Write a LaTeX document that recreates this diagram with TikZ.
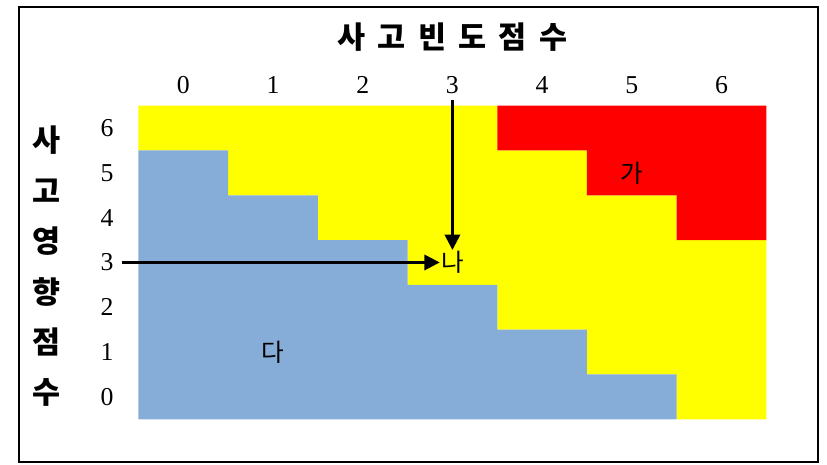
\documentclass[tikz,border=0pt]{standalone}
\usepackage{fontspec}
\setmainfont{Liberation Serif}
\newfontfamily\kr{Noto Sans CJK KR}
\usetikzlibrary{positioning}
\usetikzlibrary{arrows.meta}
\definecolor{riskblue}{RGB}{134, 172, 216}
\definecolor{riskyellow}{RGB}{255, 255, 0}
\definecolor{riskred}{RGB}{255, 0, 0}

\begin{document}
\begin{tikzpicture}
  [
    x          = 2.691cm,
    y          = 1.344cm,
    link/.style = {line width=2.1pt, -{Triangle[length=13pt,width=13pt]}}
  ]
  \useasboundingbox (-1.544,-1.020) rectangle (7.676,9.359);
  \draw[line width=2.4pt] (-1.332,-0.953) rectangle (7.575,9.203);
  \begin{scope}[num/.style={font=\fontsize{22}{24}\selectfont, inner sep=1pt},
  			axis/.style={font=\kr\bfseries\fontsize{26}{28}\selectfont, inner sep=0pt},
  			zone/.style={font=\kr\fontsize{21}{23}\selectfont, inner sep=1pt}]
  % risk zones
  \fill[riskyellow] (0,6) -- (0,7) -- (4,7) -- (4,6) -- (5,6) -- (5,5) -- (6,5) -- (6,4)
    -- (7,4) -- (7,0) -- (6,0) -- (6,1) -- (5,1) -- (5,2) -- (4,2) -- (4,3) -- (3,3)
    -- (3,4) -- (2,4) -- (2,5) -- (1,5) -- (1,6) -- cycle;
  \fill[riskblue] (0,0) -- (6,0) -- (6,1) -- (5,1) -- (5,2) -- (4,2) -- (4,3) -- (3,3)
    -- (3,4) -- (2,4) -- (2,5) -- (1,5) -- (1,6) -- (0,6) -- cycle;
  \fill[riskred] (4,7) -- (7,7) -- (7,4) -- (6,4) -- (6,5) -- (5,5) -- (5,6) -- (4,6) -- cycle;
  % scores
  \foreach \c in {0,...,6}
    \node [num] (c\c) at (\c+0.5,7.462) {\c};
  \foreach \r in {0,...,6}
    \node [num] (r\r) at (-0.351,\r+0.5) {\r};
  \foreach \ch [count=\k] in {사,고,빈,도,점,수}
    \node [axis] (t\k) at ({3.5+0.45*(\k-3.5)},8.533) {\ch};
  \foreach \ch [count=\k] in {사,고,영,향,점,수}
    \node [axis] (s\k) at (-1.02,{6.234-1.129*(\k-1)}) {\ch};
  \node [zone] (ga) at (5.5,5.5) {가};
  \node [zone] (na) at (3.5,3.5) {나};
  \node [zone] (da) at (1.5,1.5) {다};
  \draw [link, shorten <=4pt] (c3) -- (na);
  \draw [link, shorten <=6pt] (r3) -- (na);
  \end{scope}
\end{tikzpicture}
\end{document}
